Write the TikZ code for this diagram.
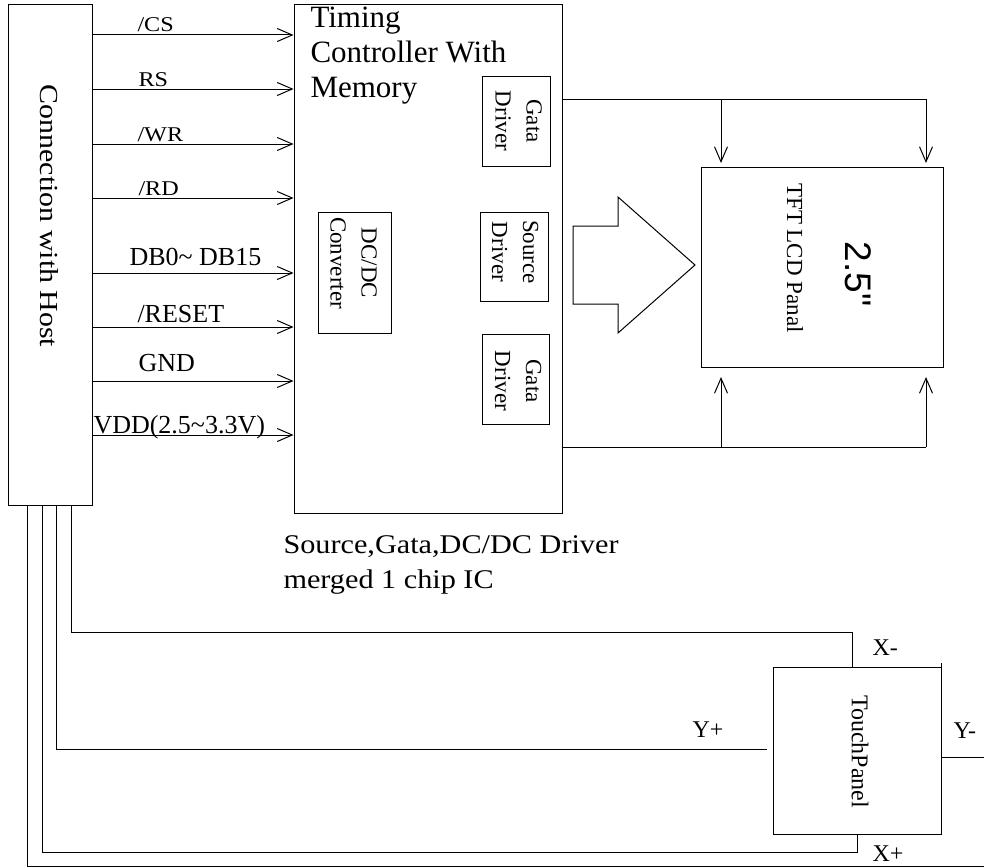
\documentclass[tikz,border=0pt]{standalone}
\usepackage{fontspec}
\setmainfont{Liberation Serif}
\newfontfamily\lsans{Liberation Sans}[Ligatures=TeXOff]
\usetikzlibrary{arrows.meta}
\newcommand\fsz[2]{\fontsize{#1}{#2}\selectfont}
\begin{document}
\begin{tikzpicture}[x=1pt,y=-1pt,line width=1pt,
  box/.style={draw,inner sep=0pt},
  sig/.style={-{Straight Barb[length=15pt,width=13pt]}},
  smalllab/.style={inner sep=0pt,anchor=base west,font=\fsz{21}{24}},
  biglab/.style={inner sep=0pt,anchor=base west,font=\fsz{26}{31}},
  tplab/.style={inner sep=0pt,anchor=base west,font=\fsz{24}{28}},
  drvtxt/.style={inner sep=0pt,rotate=-90,align=center,font=\fsz{23}{31}}]
\useasboundingbox (0,0) rectangle (984,867);
% main boxes
\node[box,minimum width=84pt,minimum height=500pt] (host) at (50,255) {};
\node[box,minimum width=268pt,minimum height=508pt] (tc) at (428,259) {};
\node[box,minimum width=68pt,minimum height=90pt] (g1) at (516,121) {};
\node[box,minimum width=73pt,minimum height=121pt] (dc) at (354.5,272.5) {};
\node[box,minimum width=68pt,minimum height=89pt] (src) at (514,256.5) {};
\node[box,minimum width=67pt,minimum height=90pt] (g2) at (515.5,379) {};
\node[box,minimum width=242pt,minimum height=200pt] (panel) at (822,267) {};
\node[box,minimum width=168pt,minimum height=167pt] (touch) at (857,750.5) {};
% texts
\node[inner sep=0pt,rotate=-90,font=\fsz{26}{30}] (hostlab) at (49,216) {\scalebox{1.15}[1]{Connection with Host}};
\node[inner sep=0pt,anchor=base west,font=\fsz{31}{35}] (t1) at (310,28) {Timing};
\node[inner sep=0pt,anchor=base west,font=\fsz{31}{35}] (t2) at (310,63) {Controller With};
\node[inner sep=0pt,anchor=base west,font=\fsz{31}{35}] (t3) at (310,97) {Memory};
\node[drvtxt] (g1t) at (518.5,121) {Gata\\Driver};
\node[drvtxt] (dct) at (353.5,263) {DC/DC\\Converter};
\node[drvtxt] (srct) at (515,252) {Source\\Driver};
\node[drvtxt] (g2t) at (518,381) {Gata\\Driver};
\node[inner sep=0pt,rotate=-90,font=\fsz{23}{28}] (panelt) at (795,258) {TFT LCD Panal};
\node[inner sep=0pt,rotate=-90,font=\lsans\fsz{37}{40}] (size) at (858.5,274) {2.5"};
\node[inner sep=0pt,rotate=-90,font=\fsz{24}{28}] (toucht) at (860,751.5) {TouchPanel};
\node[inner sep=0pt,anchor=base west,font=\fsz{27}{32}] (cap1) at (283,553) {\scalebox{1.12}[1]{Source,Gata,DC/DC Driver}};
\node[inner sep=0pt,anchor=base west,font=\fsz{27}{32}] (cap2) at (283,588) {\scalebox{1.12}[1]{merged 1 chip IC}};
% signal arrows
\foreach \yy in {35,89,144,198,273,327,381,435}
  \draw[sig] (host.east |- 0,\yy) -- (tc.west |- 0,\yy);
\node[smalllab] (lcs) at (137,32) {\scalebox{1.15}[1]{/CS}};
\node[smalllab] (lrs) at (138,86) {\scalebox{1.15}[1]{RS}};
\node[smalllab] (lwr) at (137,141) {\scalebox{1.15}[1]{/WR}};
\node[smalllab] (lrd) at (138,195) {\scalebox{1.15}[1]{/RD}};
\node[biglab] (ldb) at (129,265) {DB0\textasciitilde{} DB15};
\node[biglab] (lrst) at (137,322) {/RESET};
\node[biglab] (lgnd) at (138,371) {GND};
\node[biglab] (lvdd) at (93,433) {VDD(2.5\textasciitilde3.3V)};
% wires to panel
\draw (tc.east |- 0,99) -- (926,99);
\draw[sig] (721,99) -- (721,163);
\draw[sig] (926,99) -- (926,163);
\draw (tc.east |- 0,447) -- (926,447);
\draw[sig] (721,447) -- (721,377);
\draw[sig] (926,447) -- (926,377);
% block arrow
\draw (573,226) -- (618,226) -- (618,197) -- (695,265) -- (618,333) -- (618,304) -- (573,304) -- cycle;
% touch panel wires
\coordinate (xm) at (852,632);
\coordinate (yp) at (767,749);
\coordinate (xp) at (857,852);
\coordinate (gndend) at (984,866);
\coordinate (ymend) at (984,757);
\draw (host.south -| 71,0) |- (xm) -- (touch.north -| xm);
\draw (host.south -| 56,0) |- (yp);
\draw (host.south -| 42,0) |- (xp) -- (touch.south);
\draw (host.south -| 27,0) |- (gndend);
\draw (touch.east |- ymend) -- (ymend);
\draw (touch.north east) -- ++(0,-4);
\node[tplab] (lxm) at (872,655) {X-};
\node[tplab] (lyp) at (692,737) {Y+};
\node[tplab] (lym) at (953,738) {Y-};
\node[tplab] (lxp) at (872,861) {X+};
\end{tikzpicture}
\end{document}
